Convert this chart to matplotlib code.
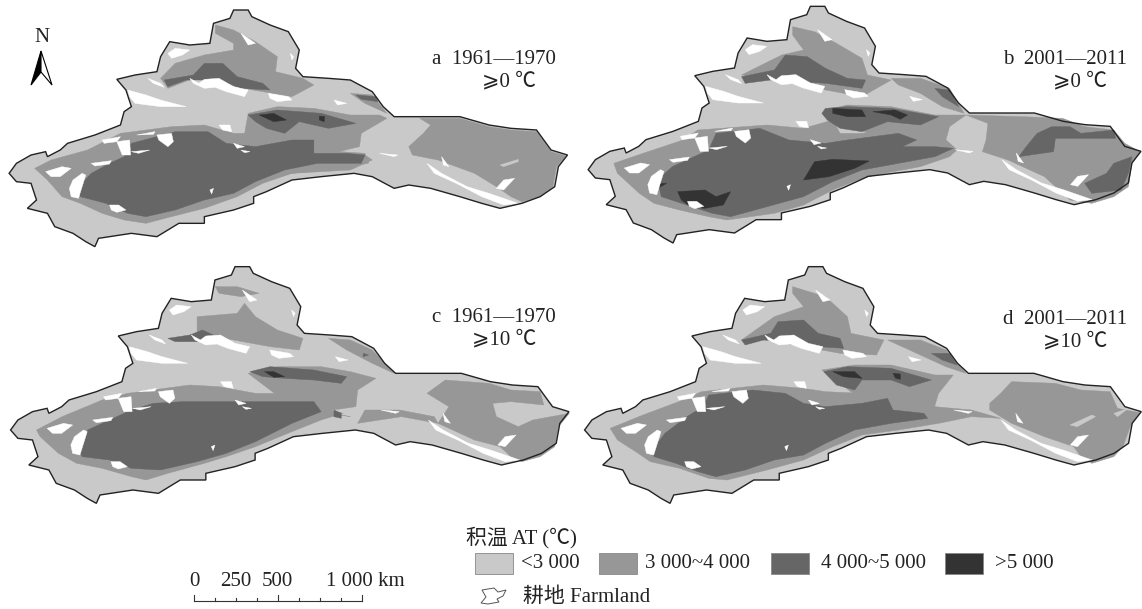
#!/usr/bin/python3
from matplotlib import pyplot as plt
from matplotlib.patches import Polygon, Rectangle

outline = [(25,520),(45,490),(85,465),(125,455),(130,470),(165,450),(185,430),(215,420),(260,405),(330,375),
	(340,335),(360,320),(345,270),(320,238),(370,225),(430,215),(440,170),(465,125),(520,135),(575,130),
	(585,70),(630,55),(640,30),(680,30),(690,50),(740,75),(790,95),(820,150),(810,205),(830,230),
	(900,235),(960,240),(1020,275),(1050,320),(1080,350),(1180,350),(1260,350),(1340,375),(1400,385),(1470,390),
	(1490,420),(1510,450),(1555,465),(1530,500),(1520,560),(1480,590),(1430,610),(1370,625),(1320,610),(1260,590),
	(1180,565),(1120,555),(1080,565),(1020,530),(970,520),(880,530),(800,540),(730,575),(695,590),(695,610),
	(640,630),(560,650),(560,670),(490,670),(430,710),(360,700),(270,715),(260,740),(235,725),(200,700),
	(150,680),(130,640),(75,625),(100,600),(85,550),(45,545)]

snow = [[(460,160),(480,145),(520,150),(500,165),(470,175)],
	[(520,235),(545,250),(560,238),(600,235),(640,260),(680,270),(670,290),(620,275),(590,262),(560,265),(530,250)],
	[(735,280),(790,290),(800,300),(760,305),(740,295)],
	[(350,270),(400,285),(440,300),(510,320),(440,320),(370,310),(355,290)],
	[(405,235),(440,250),(450,262),(420,250)],
	[(430,405),(470,400),(475,425),(460,440),(435,420)],
	[(320,425),(355,420),(358,465),(335,465)],
	[(280,420),(330,410),(320,425),(285,430)],
	[(125,515),(170,500),(195,505),(165,530),(140,530)],
	[(200,540),(225,520),(235,525),(215,595),(195,590),(190,565)],
	[(300,615),(325,615),(345,630),(320,637),(305,630)],
	[(1170,490),(1210,520),(1280,560),(1340,580),(1420,610),(1380,615),(1320,590),(1250,550),(1190,520)],
	[(1380,540),(1410,535),(1380,570),(1360,565)],
	[(600,375),(630,375),(635,395),(610,390)],
	[(640,430),(670,440),(650,445)],
	[(915,300),(950,310),(925,315)],
	[(1040,460),(1090,465),(1080,470)],
	[(795,160),(805,170),(800,180)],
	[(660,100),(700,130),(680,135)],
	[(360,455),(410,450),(380,460)],
	[(250,490),(305,482),(300,492),(260,498)],
	[(575,570),(585,565),(580,582)],
	[(660,450),(685,455),(670,458)],
	[(375,405),(425,395),(420,403)],
	[(1210,470),(1230,500),(1215,495)]]

a_mid = [[(440,235),(480,190),(560,165),(640,150),(640,130),(590,100),(590,75),(640,90),(700,125),(760,170),(755,215),(830,235),(860,255),(800,290),(720,275),(640,260),(530,235),(460,265)],
	[(960,280),(1020,285),(1060,340),(1000,310)],
	[(680,340),(760,320),(860,325),(960,345),(1040,345),(1060,355),(990,400),(985,440),(870,470),(1000,465),(1020,480),(960,510),(800,520),(720,540),(640,590)],
	[(95,505),(140,480),(240,450),(330,400),(470,380),(560,375),(640,400),(760,400),(860,420),(870,450),(1000,460),(1010,490),(900,510),(800,520),(720,550),(650,590),(560,625),(470,650),(400,670),(340,660),(280,640),(220,610),(170,590),(130,540)],
	[(1130,430),(1160,400),(1180,375),(1150,355),(1260,355),(1340,380),(1400,390),(1470,395),(1490,425),(1510,455),(1550,468),(1525,500),(1515,560),(1480,590),(1430,605),(1400,590),(1360,560),(1300,520),(1200,480),(1130,465),(1120,440)]]
a_light = [[(1370,495),(1420,478),(1420,485),(1380,500)]]
a_dark = [[(215,560),(250,520),(300,490),(340,470),(360,430),(480,395),(570,395),(620,430),(700,440),(800,420),(860,420),(860,460),(950,460),(1000,465),(990,490),(870,490),(780,510),(700,545),(640,580),(560,600),(480,630),(400,650),(350,640),(290,610),(220,590)],
	[(450,240),(530,225),(560,190),(610,190),(650,230),(720,250),(740,270),(660,265),(600,240),(510,240),(460,260)],
	[(680,345),(760,330),(880,340),(975,370),(900,385),(820,365),(780,400),(730,385),(700,365)],
	[(975,285),(1030,290),(1035,305),(990,298)]]
a_black = [[(710,345),(750,340),(785,360),(750,365)],
	[(875,348),(890,350),(888,365),(875,360)]]

b_mid = [[(470,225),(580,165),(640,150),(610,105),(610,80),(670,95),(730,130),(800,175),(815,225),(880,240),(800,290),(700,270),(560,240)],
	[(880,235),(960,235),(1040,265),(1080,340),(1020,320),(960,280),(900,255)],
	[(1085,345),(1240,350),(1350,355),(1410,380),(1490,390),(1520,430),(1562,455),(1540,490),(1530,560),(1490,590),(1430,610),(1370,600),(1300,530),(1200,480),(1130,455),(1140,420),(1145,370)],
	[(700,330),(760,315),(880,320),(1000,345),(1085,345),(1040,380),(1030,420),(1060,450),(1000,480),(900,450)],
	[(120,490),(200,460),(310,420),(350,390),(540,375),(640,385),(720,360),(740,400),(800,400),(900,380),(1000,380),(1030,420),(1060,450),(1040,470),(960,500),(860,520),(800,535),(720,570),(640,615),(560,640),(430,660),(380,650),(300,630),(230,610),(190,580),(130,520)]]
b_light = []
b_dark = [[(240,540),(280,500),(340,470),(380,450),(400,400),(520,385),(600,420),(700,430),(760,420),(830,410),(900,400),(950,420),(910,440),(1000,440),(1050,445),(1000,470),(900,490),(800,510),(720,545),(640,590),(540,620),(440,650),(390,640),(320,615),(250,590)],
	[(470,230),(560,210),(590,165),(650,170),(700,205),(760,235),(810,240),(800,265),(700,250),(630,245),(550,240),(480,250)],
	[(1000,265),(1040,270),(1065,320),(1020,290)],
	[(700,325),(760,320),(880,325),(1010,350),(960,375),(870,365),(800,395),(740,385),(705,360),(690,340)],
	[(1250,440),(1280,400),(1320,380),(1370,380),(1400,400),(1490,390),(1495,415),(1330,415),(1325,455),(1230,470)],
	[(1540,470),(1530,520),(1510,570),(1430,580),(1410,550),(1470,520),(1490,490)]]
b_black = [[(640,540),(670,485),(720,478),(820,483),(780,505),(710,530)],
	[(295,575),(370,570),(400,590),(440,575),(420,615),(370,625),(330,620),(305,600)],
	[(240,550),(265,550),(240,565)],
	[(720,325),(800,330),(810,350),(760,350),(720,340)],
	[(830,335),(890,330),(925,345),(905,358),(880,345)]]

c_mid = [[(540,170),(650,160),(670,130),(700,170),(760,210),(830,235),(820,270),(740,260),(640,240),(540,220)],
	[(590,80),(650,80),(710,100),(660,110),(600,100)],
	[(900,235),(960,240),(1020,270),(1080,340),(1020,310),(950,270)],
	[(680,340),(760,320),(880,320),(960,335),(1030,355),(980,390),(975,440),(880,455),(960,470),(800,440)],
	[(1000,450),(1095,450),(1190,470),(1200,490),(1100,470),(980,490)],
	[(100,510),(170,470),(280,420),(350,400),(520,375),(600,380),(700,400),(800,400),(880,400),(870,440),(940,460),(880,480),(800,515),(700,560),(620,590),(560,610),(460,640),(400,660),(360,650),(280,625),(210,610),(160,580),(110,530)],
	[(1170,400),(1220,360),(1340,370),(1400,390),(1480,395),(1490,435),(1400,425),(1350,430),(1360,470),(1420,500),(1460,480),(1560,460),(1530,500),(1520,560),(1480,590),(1430,605),(1400,590),(1370,560),(1300,540),(1200,490),(1230,440)]]
c_light = []
c_dark = [[(215,570),(240,510),(300,480),(360,450),(420,430),(500,425),(640,425),(860,425),(880,455),(800,490),(700,545),(620,580),(540,605),(440,630),(360,625),(300,600),(225,590)],
	[(460,235),(520,225),(555,210),(585,225),(540,245),(480,245)],
	[(685,335),(740,320),(860,330),(950,350),(935,370),(860,360),(780,355),(720,350)],
	[(915,450),(935,460),(935,475),(915,470)],
	[(995,280),(1010,285),(995,290)]]
c_black = [[(725,335),(750,335),(780,350),(750,352)]]

d_mid = [[(470,240),(560,170),(640,140),(610,100),(610,80),(700,110),(760,170),(770,220),(860,240),(840,285),(740,280),(640,260),(540,240)],
	[(870,240),(960,240),(1030,270),(1085,340),(1030,320),(950,280)],
	[(690,330),(780,315),(880,315),(1000,345),(1050,345),(1010,400),(1000,435),(880,450),(800,420)],
	[(110,505),(200,465),(310,420),(360,395),(530,375),(640,385),(700,395),(800,400),(880,395),(1000,400),(1000,440),(1100,450),(1180,475),(1100,470),(1010,490),(900,510),(800,525),(720,560),(640,600),(540,630),(430,660),(380,655),(300,625),(220,605),(180,575),(130,540)],
	[(1150,430),(1180,400),(1210,365),(1330,370),(1400,390),(1480,395),(1500,445),(1560,458),(1535,500),(1515,560),(1490,590),(1430,610),(1400,590),(1380,560),(1300,530),(1210,490),(1150,450)]]
d_light = [[(1370,495),(1430,465),(1440,470),(1390,500)],
	[(1490,460),(1530,445),(1500,470)]]
d_dark = [[(225,570),(260,520),(320,470),(365,440),(380,405),(500,390),(590,400),(640,430),(700,440),(800,430),(870,415),(885,450),(970,460),(980,475),(880,490),(780,510),(700,550),(640,585),(560,600),(480,630),(400,650),(350,635),(290,610),(230,590)],
	[(470,240),(550,220),(570,185),(640,180),(680,220),(740,235),(750,265),(680,260),(610,245),(530,240),(480,255)],
	[(695,335),(760,320),(880,325),(990,360),(930,380),(880,360),(800,360),(780,390),(730,375)],
	[(990,280),(1040,280),(1060,315),(1020,300)]]
d_black = [[(720,335),(780,335),(800,355),(750,350)],
	[(885,340),(905,342),(905,358),(892,355)]]

panel_labels = ['a  1961—1970', 'b  2001—2011', 'c  1961—1970', 'd  2001—2011']
panel_temps = ['⩾0 ℃', '⩾0 ℃', '⩾10 ℃', '⩾10 ℃']
class_labels = ['<3 000', '3 000~4 000', '4 000~5 000', '>5 000']
class_colors = ['#c9c9c9', '#979797', '#666666', '#333333']
scale_labels = ['0', '250', '500', '1 000 km']

fonts = ['Liberation Serif', 'Noto Sans CJK SC', 'DejaVu Sans']
plt.rcParams['font.family'] = fonts

fig = plt.figure(figsize=(11.42, 6.09), dpi=100)
ax = fig.add_axes([0, 0, 1, 1])
ax.set_xlim(0, 1142)
ax.set_ylim(609, 0)
ax.axis('off')

sx = 2.74
sy = 3.0
no_shift = (1, 0, 0)
text_size = 15

def to_px(shape, origin, crop_shift):
	ox, oy = origin
	k, dx, dy = crop_shift
	return [(ox + (dx + k * x) / sx, oy + (dy + y) / sy) for x, y in shape]

# region lists were traced per crop, so they need no shift
def draw_shapes(shapes, color, origin, order):
	for s in shapes:
		ax.add_patch(Polygon(to_px(s, origin, no_shift), closed=True, fc=color, ec=color, lw=0.3, zorder=order))

panels = [((0, 0), (1, 0, 0), a_mid, a_light, a_dark, a_black, 0),
	((570, 0), (0.99, 25, -11), b_mid, b_light, b_dark, b_black, 0),
	((0, 260), (1, 4, -10), c_mid, c_light, c_dark, c_black, -2),
	((570, 260), (0.997, 15, -10), d_mid, d_light, d_dark, d_black, 0)]

for i, (origin, shift, mid, light, dark, black, text_dy) in enumerate(panels):
	ax.add_patch(Polygon(to_px(outline, origin, shift), closed=True, fc=class_colors[0], ec='none', zorder=1))
	draw_shapes(mid, class_colors[1], origin, 2)
	draw_shapes(light, class_colors[0], origin, 3)
	draw_shapes(dark, class_colors[2], origin, 4)
	draw_shapes(black, class_colors[3], origin, 5)
	for s in snow:
		ax.add_patch(Polygon(to_px(s, origin, shift), closed=True, fc='white', ec='white', lw=0.3, zorder=6))
	ax.add_patch(Polygon(to_px(outline, origin, shift), closed=True, fc='none', ec='#222222', lw=1.0, zorder=7))
	ax.text(origin[0] + 432 + (1 if i % 2 else 0), origin[1] + 59 + text_dy, panel_labels[i], fontsize=text_size, va='center', ha='left', color='#222222')
	ax.text(origin[0] + 536 + (1 if i % 2 else 0), origin[1] + 82 + text_dy, panel_temps[i], fontsize=text_size, va='center', ha='right', color='#222222')

# north arrow
ax.text(42, 37, 'N', fontsize=text_size, ha='center', va='center', color='#222222')
ax.add_patch(Polygon([(41, 51), (31, 85), (41, 72)], closed=True, fc='black', ec='black', lw=0.8))
ax.add_patch(Polygon([(41, 51), (52, 85), (41, 72)], closed=True, fc='white', ec='black', lw=0.8))

# legend
ax.text(466, 538, '积温 AT (℃)', fontsize=text_size, va='center', color='#222222')
swatch_x = [475, 599, 771, 945]
text_x = [521, 645, 821, 995]
for x, tx, lab, col in zip(swatch_x, text_x, class_labels, class_colors):
	ax.add_patch(Rectangle((x, 553), 38, 21, fc=col, ec='#888888', lw=0.6))
	ax.text(tx, 564, lab, fontsize=text_size, va='center', color='#222222')

farmland_icon = [(482, 590), (494, 588), (498, 592), (506, 590), (503, 596), (497, 599), (499, 602), (488, 604), (481, 603), (486, 597)]
ax.add_patch(Polygon(farmland_icon, closed=True, fc='white', ec='#555555', lw=0.7))
ax.text(523, 597, '耕地 Farmland', fontsize=text_size, va='center', color='#222222')

# scale bar
bar_x = [194 + 21 * i for i in range(9)]
ax.plot([bar_x[0], bar_x[-1]], [601, 601], color='#333333', lw=0.8)
for i, x in enumerate(bar_x):
	ax.plot([x, x], [601, 595 if i % 4 == 0 else 598], color='#333333', lw=0.8)
for x, lab in zip([194, 236, 277], scale_labels[:3]):
	ax.text(x, 582, lab, fontsize=text_size, ha='center', va='center', color='#222222')
ax.text(326, 582, scale_labels[3], fontsize=text_size, ha='left', va='center', color='#222222')

fig.savefig('out.png', dpi=100)
